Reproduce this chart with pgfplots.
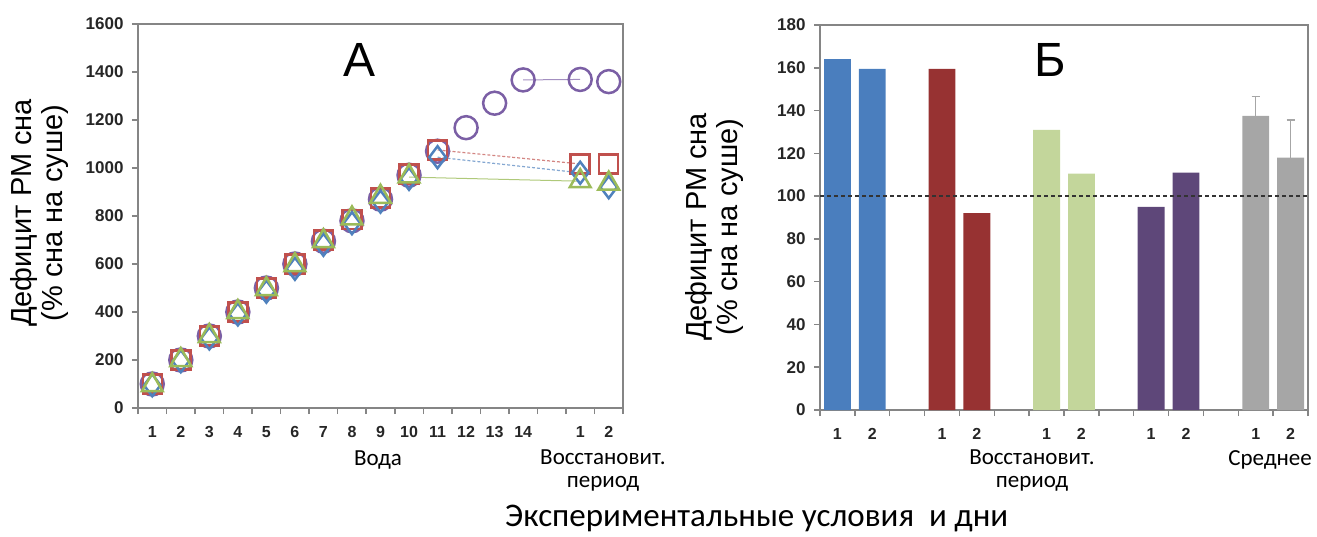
\documentclass[border=0pt]{standalone}
\usepackage{pgfplots}
\pgfplotsset{compat=1.18}
\usepackage{fontspec}
\setmainfont{Liberation Sans}
\newfontfamily\calib{Carlito}
\definecolor{mRed}{HTML}{C0504D}
\definecolor{mBlue}{HTML}{4F81BD}
\definecolor{mGreen}{HTML}{9BBB59}
\definecolor{mPurple}{HTML}{7B5FA5}
\definecolor{bBlue}{HTML}{4A7EBE}
\definecolor{bRed}{HTML}{973232}
\definecolor{bGreen}{HTML}{C3D69B}
\definecolor{bPurple}{HTML}{5E4779}
\definecolor{bGray}{HTML}{A6A6A6}
\definecolor{axgray}{HTML}{858585}
\begin{document}
\begin{tikzpicture}[x=1pt,y=1pt]
\path[use as bounding box] (0,0) rectangle (1317,536);
\pgfplotsset{
  common/.style={
    scale only axis,
    axis line style={draw=axgray, line width=1.8pt},
    tick style={draw=axgray, line width=1.5pt},
    tick align=outside,
    xtick pos=bottom, ytick pos=left,
    major tick length=6pt,
    /pgf/number format/assume math mode=true,
    /pgf/number format/1000 sep={},
    yticklabel style={font=\fontsize{17}{17}\selectfont\bfseries, text=black!85, xshift=-5pt},
    xticklabel style={font=\fontsize{16}{16}\selectfont\bfseries, text=black!85, text height=11.5pt, text depth=0pt, yshift=-14pt},
  }
}
% ---------------- Panel A ----------------
\begin{axis}[common,
  at={(138pt,128pt)}, anchor=south west,
  width=485pt, height=384pt,
  xmin=0.5, xmax=17.5, ymin=0, ymax=1600,
  ytick={0,200,...,1600},
  xtick={0.5,1.5,...,17.5}, xticklabels={},
  extra x ticks={1,2,3,4,5,6,7,8,9,10,11,12,13,14,16,17},
  extra x tick labels={1,2,3,4,5,6,7,8,9,10,11,12,13,14,1,2},
  extra x tick style={major tick length=0pt},
  clip=false,
]
% gap lines
\addplot[mRed!70, densely dashed, line width=1.2pt] coordinates {(11,1075) (16,1017)};
\addplot[mBlue!70, densely dashed, line width=1.2pt] coordinates {(11,1045) (16,980)};
\addplot[mGreen!80, line width=1pt] coordinates {(10,962) (16,945)};
\addplot[mPurple!70, line width=1pt] coordinates {(14,1367) (16,1369)};
% markers
\addplot[only marks, mark=o, mark size=11.5pt, mPurple, line width=2.5pt] coordinates {
 (1,100) (2,200) (3,300) (4,400) (5,500) (6,600) (7,695) (8,780) (9,870) (10,970)
 (11,1070) (12,1168) (13,1270) (14,1367) (16,1369) (17,1360)};
\addplot[only marks, mark=square, mark size=9.5pt, mRed, line width=2.5pt] coordinates {
 (1,100) (2,200) (3,300) (4,400) (5,500) (6,600) (7,700) (8,785) (9,875) (10,975)
 (11,1075) (16,1017) (17,1017)};
\addplot[only marks, mark=diamond, mark size=11pt, mBlue, line width=2.5pt] coordinates {
 (1,95) (2,195) (3,290) (4,390) (5,485) (6,580) (7,680) (8,770) (9,860) (10,955)
 (11,1045) (16,980) (17,920)};
\addplot[only marks, mark=triangle, mark size=12pt, mGreen, line width=2.5pt] coordinates {
 (1,95) (2,200) (3,300) (4,400) (5,495) (6,595) (7,695) (8,790) (9,880) (10,965)
 (16,945) (17,935)};
\end{axis}
% ---------------- Panel B ----------------
\begin{axis}[common,
  at={(820pt,126pt)}, anchor=south west,
  width=488pt, height=385pt,
  xmin=0.5, xmax=14.5, ymin=0, ymax=180,
  ytick={0,20,...,180},
  xtick={0.5,1.5,...,14.5}, xticklabels={},
  extra x ticks={1,2,4,5,7,8,10,11,13,14},
  extra x tick labels={1,2,1,2,1,2,1,2,1,2},
  extra x tick style={major tick length=0pt},
  clip=false,
]
\addplot[ybar, bar width=0.77, bar shift=0pt, fill=bBlue, draw=none] coordinates {(1,164) (2,159.5)};
\addplot[ybar, bar width=0.77, bar shift=0pt, fill=bRed, draw=none] coordinates {(4,159.5) (5,92)};
\addplot[ybar, bar width=0.77, bar shift=0pt, fill=bGreen, draw=none] coordinates {(7,131) (8,110.5)};
\addplot[ybar, bar width=0.77, bar shift=0pt, fill=bPurple, draw=none] coordinates {(10,95) (11,111)};
\addplot[ybar, bar width=0.77, bar shift=0pt, fill=bGray, draw=none,
  error bars/.cd, y dir=plus, y explicit,
  error bar style={color=bGray, line width=1.5pt},
  error mark options={color=bGray, mark size=4pt, line width=1.5pt, rotate=90}]
  coordinates {(13,137.5) +- (0,9) (14,118) +- (0,17.5)};
\addplot[black!80, dash pattern=on 4pt off 3pt, line width=1.3pt] coordinates {(0.5,100) (14.5,100)};
\end{axis}
% ---------------- Texts ----------------
\node[font=\fontsize{48}{48}\selectfont] at (360,476) {А};
\node[font=\fontsize{48}{48}\selectfont] at (1050,476) {Б};
\node[rotate=90, align=center, font=\fontsize{29}{31}\selectfont] at (40,323) {Дефицит РМ сна\\(\% сна на суше)};
\node[rotate=90, align=center, font=\fontsize{29}{31}\selectfont] at (714,309) {Дефицит РМ сна\\(\% сна на суше)};
\node[font=\calib\fontsize{23}{23}\selectfont] at (378,76) {Вода};
\node[align=center, font=\calib\fontsize{23}{23}\selectfont] at (603,65) {Восстановит.\\период};
\node[align=center, font=\calib\fontsize{23}{23}\selectfont] at (1032,65) {Восстановит.\\период};
\node[font=\calib\fontsize{23}{23}\selectfont] at (1270,76) {Среднее};
\node[anchor=base west, inner sep=0pt, font=\calib\fontsize{33}{33}\selectfont] at (505,10) {Экспериментальные условия\ \ и дни};
\end{tikzpicture}
\end{document}
